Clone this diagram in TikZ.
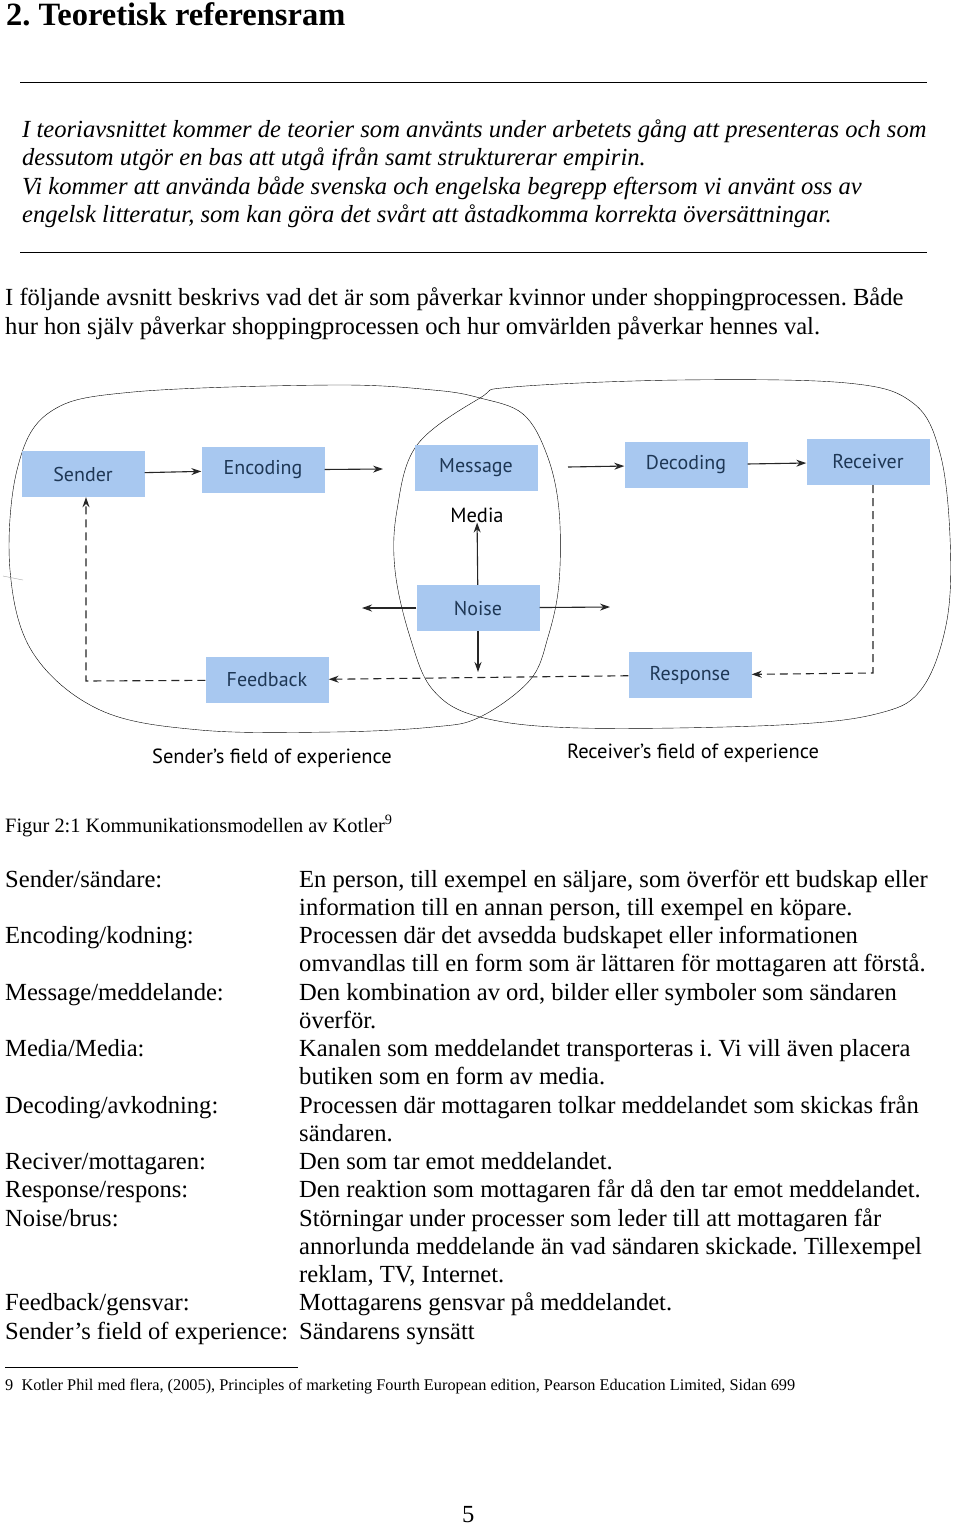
\documentclass[tikz,border=0pt]{standalone}
\usepackage{fontspec}
\setmainfont{Liberation Serif}
\newfontfamily\diagfont{PT Sans}
\usetikzlibrary{arrows.meta}

\definecolor{boxblue}{RGB}{168,200,240}
\definecolor{boxink}{RGB}{30,55,85}
\frenchspacing

\begin{document}
\begin{tikzpicture}[x=1pt,y=-1pt,>={Stealth[length=10pt,width=7pt]},
    body/.style={inner sep=0pt,anchor=base west,font=\fontsize{24.6}{28}\selectfont},
    stage/.style={fill=boxblue,draw=none,minimum width=123pt,minimum height=46pt,
        inner sep=0pt,text=boxink,font=\diagfont\fontsize{20}{22}\selectfont},
    field/.style={inner sep=0pt,font=\diagfont\fontsize{20.5}{22}\selectfont},
    flow/.style={->,line width=1.1pt,black!85},
    back/.style={->,line width=1.1pt,black!85,dash pattern=on 8pt off 5pt}]

    \useasboundingbox[fill=white] (0,0) rectangle (960,1527);

    % heading and intro
    \node[body,font=\bfseries\fontsize{32.5}{36}\selectfont] (title) at (6,25) {2. Teoretisk referensram};
    \draw[thick] (20,82) -- (927,82);
    \foreach \txt [count=\k from 0] in {
        {I teoriavsnittet kommer de teorier som använts under arbetets gång att presenteras och som},
        {dessutom utgör en bas att utgå ifrån samt strukturerar empirin.},
        {Vi kommer att använda både svenska och engelska begrepp eftersom vi använt oss av},
        {engelsk litteratur, som kan göra det svårt att åstadkomma korrekta översättningar.}}
        \node[body,font=\itshape\fontsize{24.6}{28}\selectfont] (intro\k) at (22,{137+28.6*\k}) {\txt};
    \draw[thick] (20,252) -- (927,252);
    \node[body] (para0) at (5,305) {I följande avsnitt beskrivs vad det är som påverkar kvinnor under shoppingprocessen. Både};
    \node[body] (para1) at (5,334) {hur hon själv påverkar shoppingprocessen och hur omvärlden påverkar hennes val.};

    % the two fields of experience
    \draw[thin] plot[smooth cycle,tension=0.6] coordinates {(480,398) (433,390) (333,385) (133,392)
        (50,412) (17,470) (10,570) (33,653) (100,710) (200,730) (333,732) (433,727) (480,717)
        (530,680) (548,637) (559,583) (559,510) (547,455) (523,414)};
    \draw[thin] plot[smooth cycle,tension=0.6] coordinates {(480,398) (513,387) (680,380) (847,383)
        (913,403) (940,453) (950,537) (947,620) (923,687) (880,713) (780,725) (580,728) (480,717)
        (433,690) (410,637) (395,570) (397,510) (417,445)};
    \draw[black!35] (3,576) -- (23,580);

    \node[stage] (sender) at (83,474) {Sender};
    \node[stage] (encoding) at (263,470) {Encoding};
    \node[stage] (message) at (476,468) {Message};
    \node[field] (media) at (477,515) {Media};
    \node[stage] (noise) at (478,608) {Noise};
    \node[stage] (decoding) at (686,465) {Decoding};
    \node[stage] (receiver) at (868,462) {Receiver};
    \node[stage] (response) at (690,675) {Response};
    \node[stage] (feedback) at (267,680) {Feedback};

    \coordinate (msgin) at (383,469);
    \coordinate (msgout) at (568,467);
    \coordinate (noiseleft) at (362,608);
    \coordinate (noiseright) at (610,607);
    \coordinate (noisedown) at (478,672);
    \coordinate (rcorner) at (873,673);
    \coordinate (fcorner) at (86,681);

    \draw[flow] (sender) -- (encoding);
    \draw[flow] (encoding) -- (msgin);
    \draw[flow] (msgout) -- (decoding);
    \draw[flow] (decoding) -- (receiver);
    \draw[flow] (noise) -- (media);
    \draw[flow] (noise) -- (noisedown);
    \draw[flow] (noise) -- (noiseleft);
    \draw[flow] (noise) -- (noiseright);
    \draw[back] (receiver.south -| rcorner) -- (rcorner) -- (response);
    \draw[back] (response) -- (feedback);
    \draw[back] (feedback) -- (fcorner) -- (fcorner |- sender.south);

    \node[field] (sfield) at (272,758) {Sender’s field of experience};
    \node[field] (rfield) at (693,753) {Receiver’s field of experience};

    % caption and glossary
    \node[body,font=\fontsize{20.4}{23}\selectfont] (caption) at (5,832) {Figur 2:1 Kommunikationsmodellen av Kotler\textsuperscript{9}};
    \foreach \k/\txt in {0/{Sender/sändare:},2/{Encoding/kodning:},4/{Message/meddelande:},
        6/{Media/Media:},8/{Decoding/avkodning:},10/{Reciver/mottagaren:},11/{Response/respons:},
        12/{Noise/brus:},15/{Feedback/gensvar:},16/{Sender’s field of experience:}}
        \node[body] (term\k) at (5,{887+28.25*\k}) {\txt};
    \foreach \txt [count=\k from 0] in {
        {En person, till exempel en säljare, som överför ett budskap eller},
        {information till en annan person, till exempel en köpare.},
        {Processen där det avsedda budskapet eller informationen},
        {omvandlas till en form som är lättaren för mottagaren att förstå.},
        {Den kombination av ord, bilder eller symboler som sändaren},
        {överför.},
        {Kanalen som meddelandet transporteras i. Vi vill även placera},
        {butiken som en form av media.},
        {Processen där mottagaren tolkar meddelandet som skickas från},
        {sändaren.},
        {Den som tar emot meddelandet.},
        {Den reaktion som mottagaren får då den tar emot meddelandet.},
        {Störningar under processer som leder till att mottagaren får},
        {annorlunda meddelande än vad sändaren skickade. Tillexempel},
        {reklam, TV, Internet.},
        {Mottagarens gensvar på meddelandet.},
        {Sändarens synsätt}}
        \node[body] (desc\k) at (299,{887+28.25*\k}) {\txt};

    % footnote and page number
    \draw[thick] (5,1367) -- (298,1367);
    \node[body,font=\fontsize{16.3}{19}\selectfont] (fnote) at (5,1390) {9\enspace Kotler Phil med flera, (2005), Principles of marketing Fourth European edition, Pearson Education Limited, Sidan 699};
    \node[body] (pageno) at (462,1522) {5};
\end{tikzpicture}
\end{document}
